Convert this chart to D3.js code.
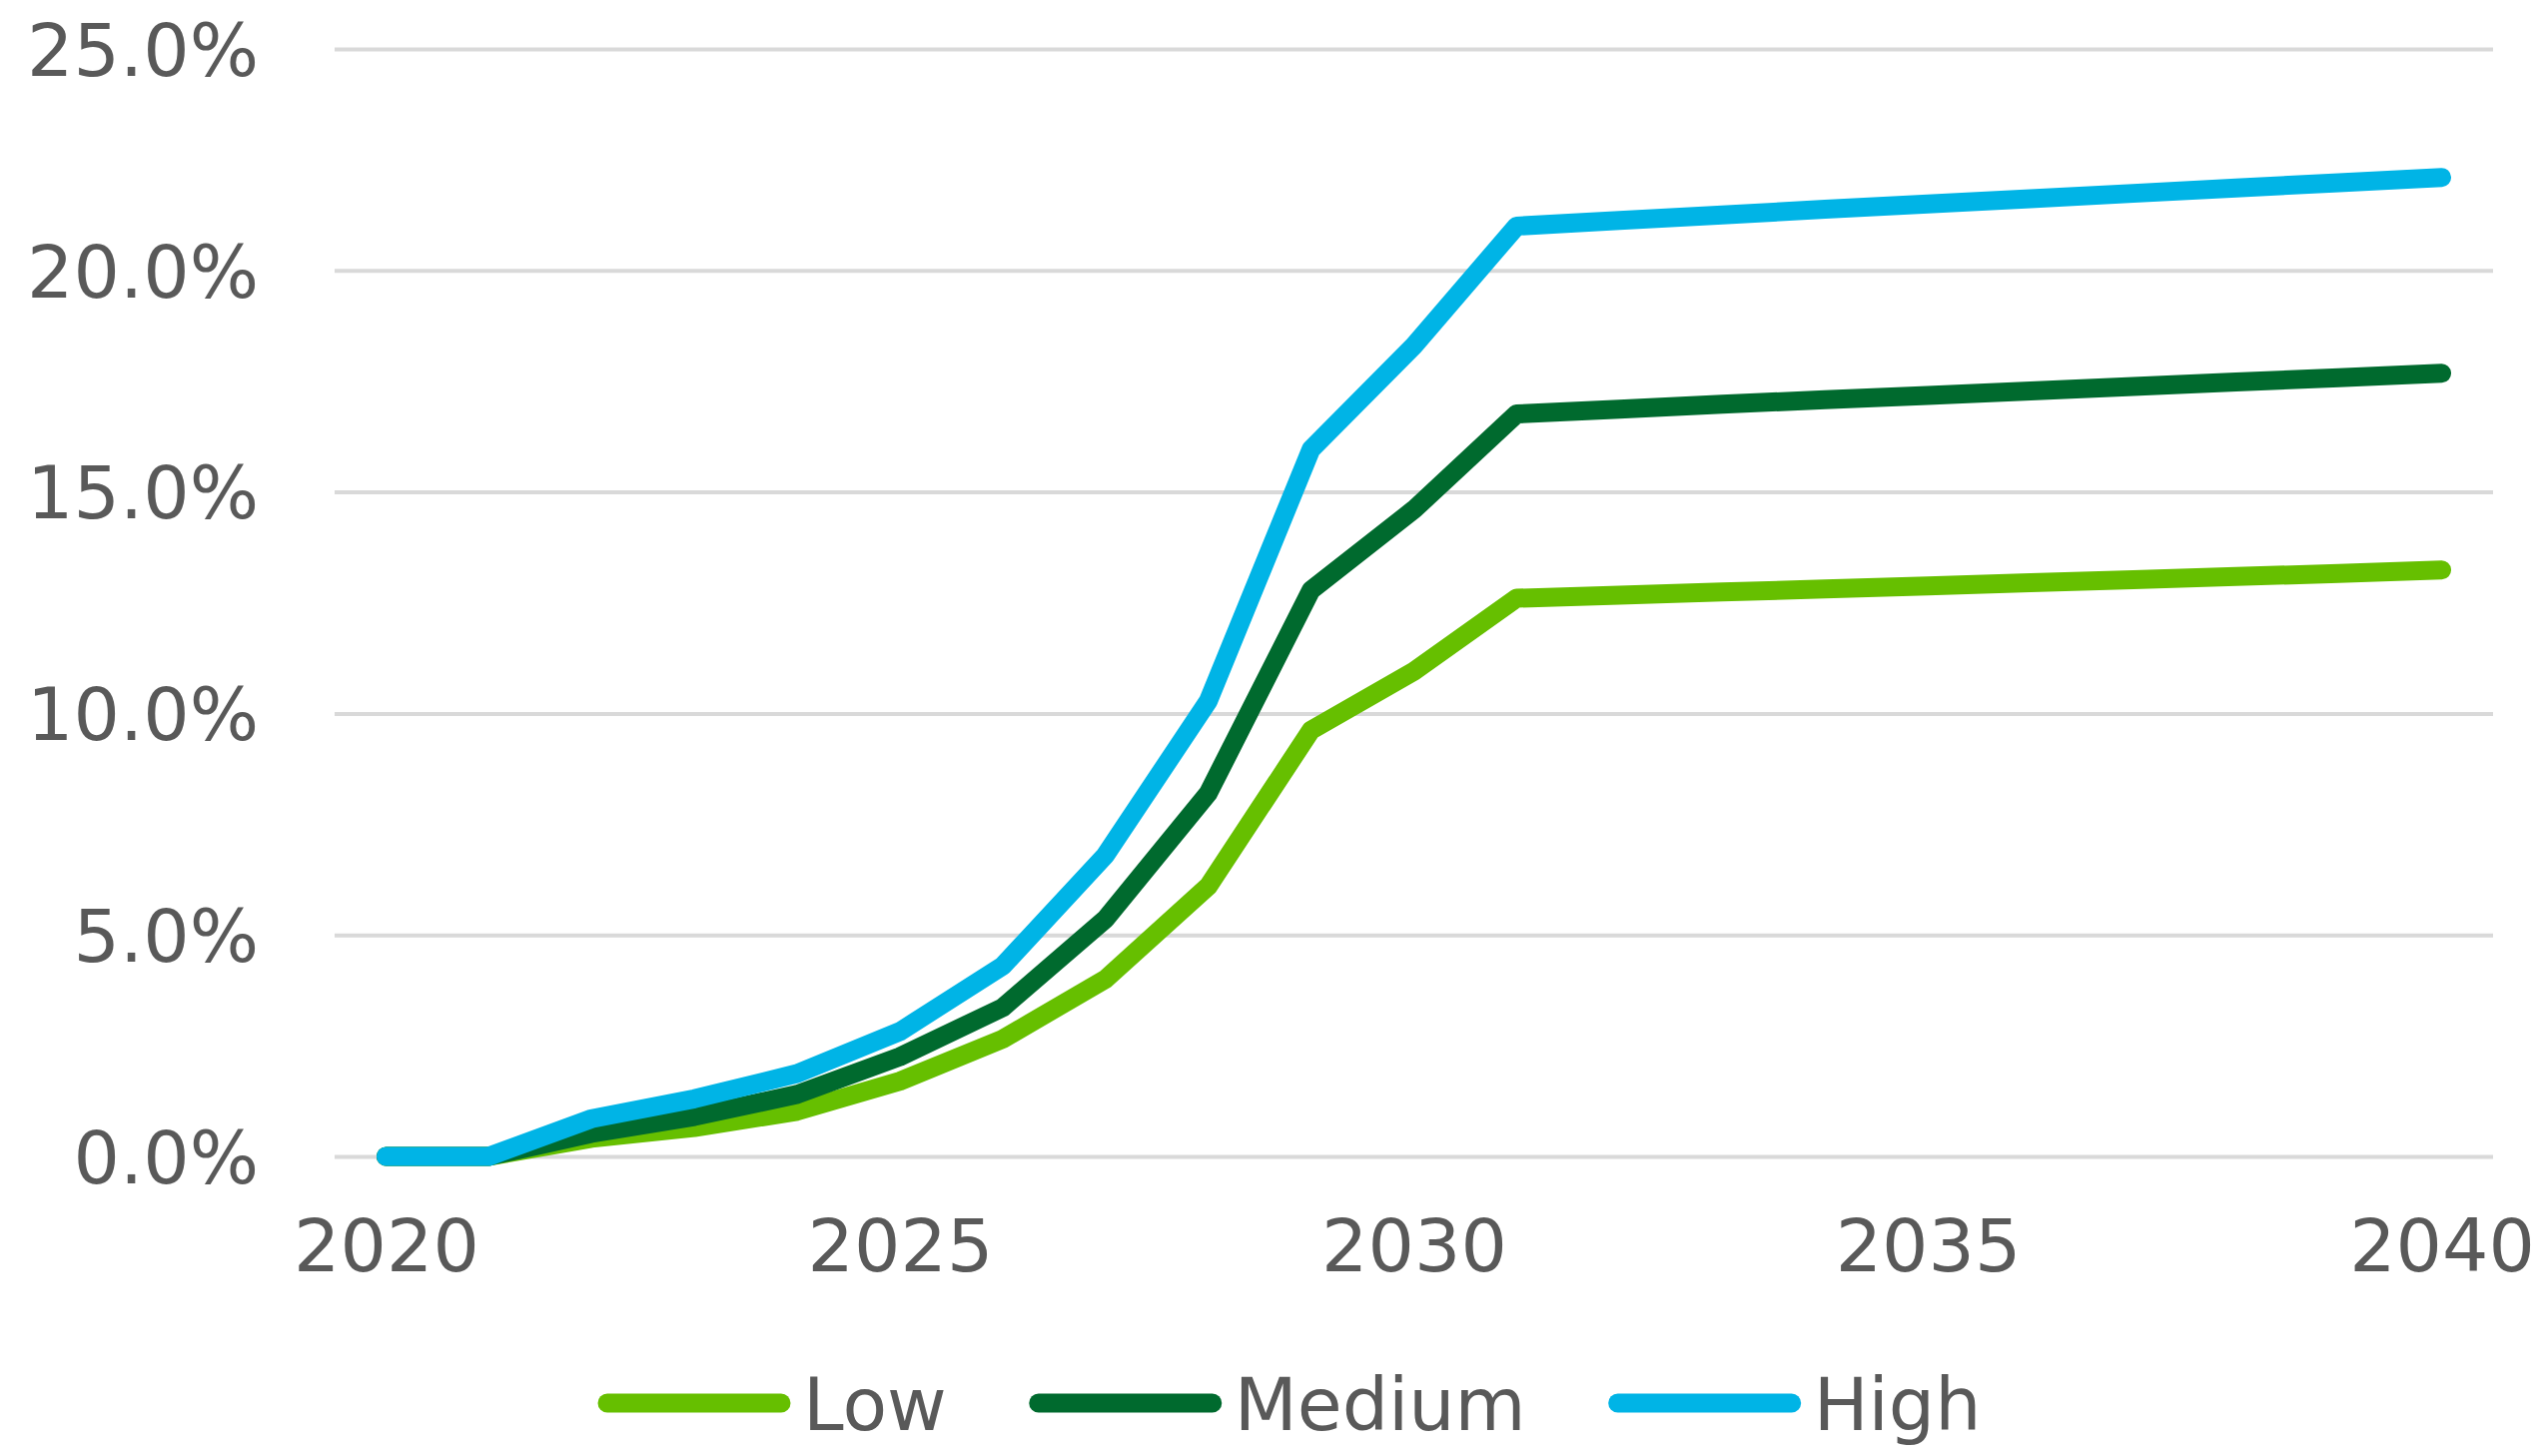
<!DOCTYPE html>
<html lang="en">
<head>
  <meta charset="UTF-8" />
  <title>Low / Medium / High scenarios 2020-2040</title>
  <script src="https://d3js.org/d3.v7.min.js"></script>
  <style>
    body {
      margin: 0;
      background: #ffffff;
    }

    svg {
      display: block;
      font-family: 'DejaVu Sans', Verdana, sans-serif;
    }

    .axis text {
      font-family: 'DejaVu Sans', Verdana, sans-serif;
      font-size: 73px;
      fill: #595959;
    }

    .grid line {
      stroke: #d9d9d9;
      stroke-width: 4px;
    }

    .series {
      fill: none;
      stroke-width: 19px;
      stroke-linecap: round;
      stroke-linejoin: round;
    }

    .legend text {
      font-size: 73px;
      fill: #595959;
    }
  </style>
</head>
<body>
  <svg id="chart" width="2548" height="1458"></svg>

  <script>
    // data (percent)
    const years = d3.range(2020, 2041);
    const low = [0, 0, 0.41, 0.65, 1.02, 1.7, 2.65, 4.0, 6.1, 9.62, 10.95,
                 12.6, 12.67, 12.74, 12.81, 12.88, 12.95, 13.02, 13.09, 13.16, 13.24];
    const medium = [0, 0, 0.52, 0.9, 1.4, 2.25, 3.36, 5.36, 8.2, 12.78, 14.6,
                    16.76, 16.87, 16.98, 17.08, 17.18, 17.28, 17.38, 17.48, 17.58, 17.68];
    const high = [0, 0, 0.85, 1.3, 1.87, 2.82, 4.3, 6.8, 10.28, 15.96, 18.3,
                  21.0, 21.13, 21.25, 21.38, 21.5, 21.62, 21.74, 21.86, 21.98, 22.1];
    const yTicks = [0, 5, 10, 15, 20, 25];
    const xTicks = [2020, 2025, 2030, 2035, 2040];

    const series = [
      {name: "Low", values: low, color: "#66bf00"},
      {name: "Medium", values: medium, color: "#006a2e"},
      {name: "High", values: high, color: "#00b4e6"}
    ];

    const svg = d3.select("#chart");
    const plotLeft = 335, plotRight = 2496, plotTop = 49, plotBottom = 1158;

    const x = d3.scalePoint()
      .domain(years)
      .range([plotLeft, plotRight])
      .padding(0.5);

    const y = d3.scaleLinear()
      .domain([0, 25])
      .range([plotBottom, plotTop]);

    // y axis + gridlines
    const yAxis = svg.append("g")
        .attr("class", "axis grid")
        .attr("transform", `translate(${plotLeft},0)`)
        .call(d3.axisLeft(y)
          .tickValues(yTicks)
          .tickSize(-(plotRight - plotLeft))
          .tickPadding(76)
          .tickFormat(d => d.toFixed(1) + "%"));
    yAxis.select(".domain").remove();
    yAxis.selectAll("text").attr("dy", "0.36em");

    // x axis, labels only
    const xAxis = svg.append("g")
        .attr("class", "axis")
        .attr("transform", `translate(0,${plotBottom})`)
        .call(d3.axisBottom(x).tickValues(xTicks).tickSize(0));
    xAxis.select(".domain").remove();
    xAxis.selectAll("text").attr("y", 115).attr("dy", 0);

    const line = d3.line()
      .x((d, i) => x(years[i]))
      .y(d => y(d));

    svg.append("g")
      .selectAll("path")
      .data(series)
      .join("path")
        .attr("class", "series")
        .attr("stroke", d => d.color)
        .attr("d", d => line(d.values));

    // legend
    const legend = svg.append("g").attr("class", "legend");
    let lx = 598;
    const ly = 1405;
    series.forEach(s => {
      legend.append("line")
        .attr("x1", lx + 10).attr("x2", lx + 184)
        .attr("y1", ly).attr("y2", ly)
        .attr("stroke", s.color)
        .attr("stroke-width", 19)
        .attr("stroke-linecap", "round");
      const t = legend.append("text")
        .attr("x", lx + 206)
        .attr("y", ly + 27)
        .text(s.name);
      lx += 206 + t.node().getComputedTextLength() + 82;
    });
  </script>
</body>
</html>
